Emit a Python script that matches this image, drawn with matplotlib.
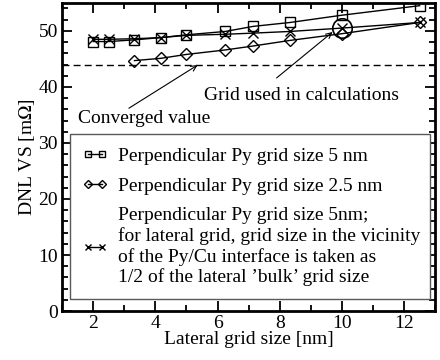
import matplotlib
matplotlib.use('Agg')
import matplotlib.pyplot as plt
from matplotlib.ticker import MultipleLocator

plt.rcParams['font.family'] = ['Liberation Serif', 'DejaVu Serif']
plt.rcParams['mathtext.fontset'] = 'stix'

# lateral grid sizes [nm]
grid_sq = [2.0, 2.5, 3.33, 4.17, 5.0, 6.25, 7.14, 8.33, 10.0, 12.5]
dnl_sq = [48.1, 48.1, 48.4, 48.8, 49.3, 49.9, 50.8, 51.5, 52.8, 54.5]

grid_dm = [3.33, 4.17, 5.0, 6.25, 7.14, 8.33, 10.0, 12.5]
dnl_dm = [44.7, 45.1, 45.8, 46.6, 47.3, 48.3, 49.5, 51.5]

grid_x = [2.0, 2.5, 3.33, 4.17, 5.0, 6.25, 7.14, 8.33, 10.0, 12.5]
dnl_x = [48.5, 48.5, 48.6, 48.8, 49.2, 49.4, 49.6, 49.9, 50.5, 51.5]

converged = 44.0
used_grid = (10.0, 50.5)

labels = ['Perpendicular Py grid size 5 nm',
          'Perpendicular Py grid size 2.5 nm',
          "Perpendicular Py grid size 5nm;\n"
          "for lateral grid, grid size in the vicinity\n"
          "of the Py/Cu interface is taken as\n"
          "1/2 of the lateral \u2019bulk\u2019 grid size"]

fig = plt.figure(figsize=(4.4, 3.6), dpi=100)
ax = fig.add_axes([0.141, 0.136, 0.848, 0.856])

ms = 7
ax.plot(grid_sq, dnl_sq, 'k-', marker='s', mfc='none', mec='k', ms=ms,
        lw=1.0, label=labels[0])
ax.plot(grid_dm, dnl_dm, 'k-', marker='D', mfc='none', mec='k', ms=6,
        lw=1.0, label=labels[1])
ax.plot(grid_x, dnl_x, 'k-', marker='x', mec='k', ms=ms, lw=1.0,
        label=labels[2])

ax.axhline(converged, color='k', ls=(0, (5, 3)), lw=1.0)
ax.plot(*used_grid, 'o', mfc='none', mec='k', ms=14, mew=1.2)

fs = 14
arrow = dict(arrowstyle='->', color='k', lw=0.8, shrinkA=0, shrinkB=0)
ax.text(8.7, 38.4, 'Grid used in calculations', ha='center', va='center',
        fontsize=fs)
ax.annotate('', xy=(9.7, 49.8), xytext=(7.9, 41.6), arrowprops=arrow)
ax.text(3.65, 34.3, 'Converged value', ha='center', va='center', fontsize=fs)
ax.annotate('', xy=(5.36, 43.9), xytext=(3.15, 36.2), arrowprops=arrow)

ax.set_xlim(1, 13)
ax.set_ylim(0, 55)
ax.xaxis.set_major_locator(MultipleLocator(2))
ax.xaxis.set_minor_locator(MultipleLocator(1))
ax.yaxis.set_major_locator(MultipleLocator(10))
ax.yaxis.set_minor_locator(MultipleLocator(2))
ax.tick_params(which='both', direction='in', top=True, right=True,
               labelsize=fs, width=1.3, pad=3)
ax.tick_params(which='major', length=7)
ax.tick_params(which='minor', length=4)
for s in ax.spines.values():
    s.set_linewidth(2.0)

ax.set_xlabel('Lateral grid size [nm]', fontsize=fs, labelpad=-1)
ax.set_ylabel('DNL VS [m$\\Omega$]', fontsize=fs, labelpad=1)

leg = ax.legend(loc='lower left', bbox_to_anchor=(0.021, 0.039, 0.966, 0.532),
                mode='expand', borderaxespad=0, fontsize=fs, numpoints=2,
                markerscale=0.7, handlelength=1.3, handletextpad=0.5,
                fancybox=False, edgecolor='0.35', framealpha=1,
                borderpad=0.65, labelspacing=0.65)
leg.get_frame().set_linewidth(1.0)

fig.savefig('out.png', dpi=100)
